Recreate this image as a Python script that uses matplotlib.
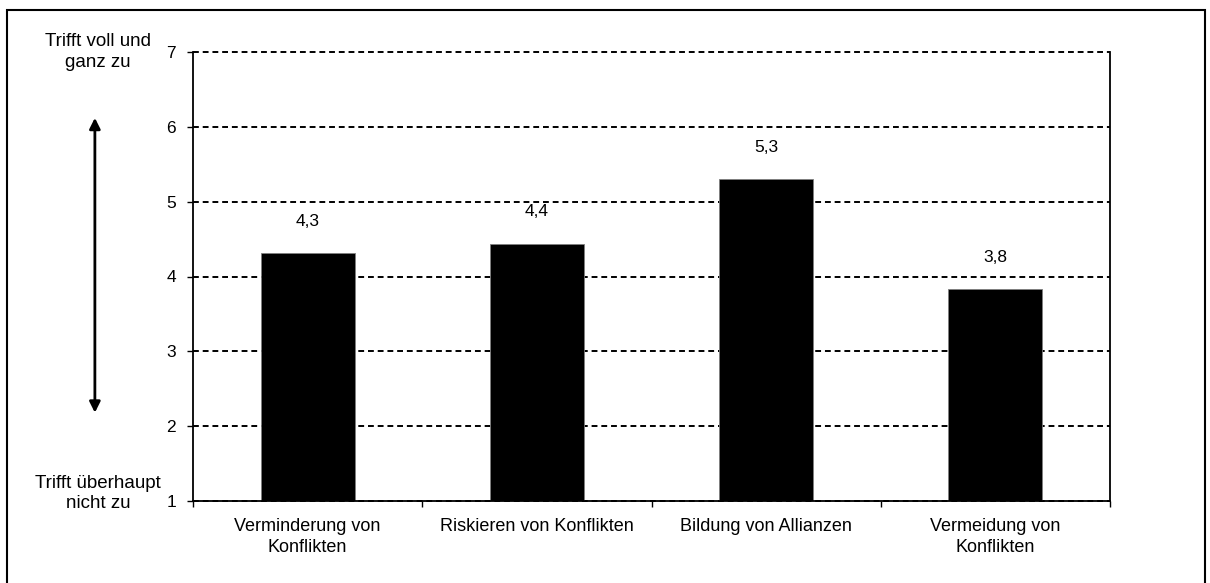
import matplotlib
matplotlib.use("Agg")
import matplotlib.pyplot as plt
from matplotlib.patches import Rectangle

categories = ["Verminderung von\nKonflikten", "Riskieren von Konflikten",
              "Bildung von Allianzen", "Vermeidung von\nKonflikten"]
values = [4.31, 4.44, 5.30, 3.83]
value_labels = ["4,3", "4,4", "5,3", "3,8"]
yticks = [1, 2, 3, 4, 5, 6, 7]
top_label = "Trifft voll und\nganz zu"
bottom_label = "Trifft überhaupt\nnicht zu"

plt.rcParams['font.family'] = ['Liberation Sans', 'DejaVu Sans']

W, H = 1210, 583
fig = plt.figure(figsize=(W / 100, H / 100), dpi=100)
ax = fig.add_axes([193 / W, 1 - 501 / H, (1110 - 193) / W, (501 - 52) / H])

x = list(range(len(categories)))
ax.bar(x, values, width=0.41, color='black', edgecolor='#7f7f7f', linewidth=0.6, zorder=3)

for xi, v, lab in zip(x, values, value_labels):
    ax.annotate(lab, (xi, v), xytext=(0, 32), textcoords='offset pixels',
                ha='center', va='center', fontsize=12.5, color='black')

ax.set_xlim(-0.5, len(categories) - 0.5)
ax.set_ylim(yticks[0], yticks[-1])
ax.set_yticks(yticks)
ax.set_yticklabels([str(t) for t in yticks], fontsize=12.5)
ax.tick_params(axis='y', length=4.3, width=1.0, pad=8.0, direction='out')

# category labels at centers, ticks at boundaries
ax.set_xticks(x)
ax.set_xticklabels(categories, fontsize=13, linespacing=1.32)
ax.tick_params(axis='x', which='major', length=0, pad=12)
ax.set_xticks([i - 0.5 for i in range(len(categories) + 1)], minor=True)
ax.tick_params(axis='x', which='minor', length=4.3, width=1.0, direction='out')

ax.grid(axis='y', color='black', linestyle=(0, (3, 2)), linewidth=1.4, zorder=1)
ax.set_axisbelow(True)
for gl in ax.get_ygridlines():
    gl.set_clip_on(False)

for s in ['left', 'bottom', 'right']:
    ax.spines[s].set_linewidth(1.3)
    ax.spines[s].set_color('black')
    ax.spines[s].set_zorder(4)
ax.spines['top'].set_visible(False)

trans = ax.get_yaxis_transform()
ax.text(-0.1036, 7.0, top_label, transform=trans, ha='center', va='center',
        fontsize=13.5, multialignment='center', linespacing=1.32, clip_on=False)
ax.text(-0.1036, 1.1, bottom_label, transform=trans, ha='center', va='center',
        fontsize=13.5, multialignment='center', linespacing=1.25, clip_on=False)

ax.annotate('', xy=(-0.107, 6.12), xytext=(-0.107, 2.18), xycoords=trans, textcoords=trans,
            arrowprops=dict(arrowstyle='<|-|>', color='black', lw=2.0,
                            mutation_scale=16, shrinkA=0, shrinkB=0),
            annotation_clip=False)

# outer frame (bottom edge lies below the image, as in the reference)
fig.patches.append(Rectangle((7 / W, 1 - 600 / H), (1205 - 7) / W, (600 - 10) / H,
                             transform=fig.transFigure, fill=False,
                             edgecolor='black', linewidth=1.5))

fig.savefig('out.png', dpi=100)
